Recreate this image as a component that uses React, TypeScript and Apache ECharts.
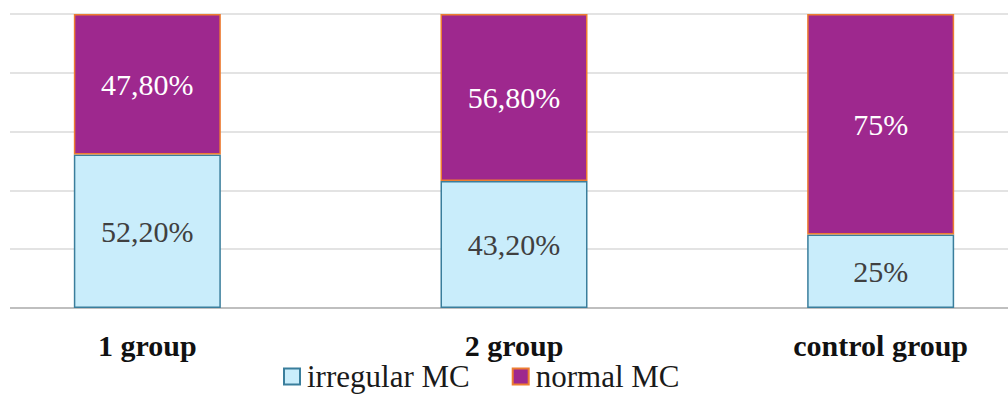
import React, { useEffect, useRef } from "react";
import * as echarts from "echarts";

const categories = ["1 group", "2 group", "control group"];
const irregularMC = [52.2, 43.2, 25];
const normalMC = [47.8, 56.8, 75];
const irregularLabels = ["52,20%", "43,20%", "25%"];
const normalLabels = ["47,80%", "56,80%", "75%"];
const seriesNames = ["irregular MC", "normal MC"];

const FONT = "Times New Roman, Liberation Serif, serif";

export default function App() {
  const ref = useRef<HTMLDivElement>(null);
  useEffect(() => {
    document.body.style.margin = "0";
    const chart = echarts.init(ref.current!, null, { renderer: "svg" });
    chart.setOption({
      animation: false,
      backgroundColor: "#ffffff",
      textStyle: { fontFamily: FONT },
      grid: {
        left: -36,
        width: 1100,
        top: 14,
        bottom: 88,
        containLabel: false,
        outerBoundsMode: "none",
      },
      legend: {
        data: seriesNames,
        left: 283,
        top: 361,
        padding: 0,
        itemWidth: 16,
        itemHeight: 16,
        itemGap: 42,
        icon: "rect",
        textStyle: {
          fontFamily: FONT,
          fontWeight: "normal",
          fontSize: 31,
          lineHeight: 31,
          color: "#1a1a1a",
          padding: [0, 0, 0, 2],
        },
      },
      xAxis: {
        type: "category",
        data: categories,
        axisLine: { show: true, lineStyle: { color: "#bfbfbf", width: 2 } },
        axisTick: { show: false },
        axisLabel: {
          fontFamily: FONT,
          fontSize: 30,
          fontWeight: "bold",
          color: "#111111",
          margin: 22,
        },
      },
      yAxis: {
        type: "value",
        min: 0,
        max: 100,
        interval: 20,
        axisLabel: { show: false },
        axisLine: { show: false },
        axisTick: { show: false },
        splitLine: { lineStyle: { color: "#e3e3e3", width: 2 } },
      },
      series: [
        {
          name: seriesNames[0],
          type: "bar",
          stack: "total",
          barWidth: 147,
          data: irregularMC,
          itemStyle: { color: "#c9edfb", borderColor: "#3a7e9c", borderWidth: 1.5 },
          label: {
            show: true,
            position: "inside",
            fontFamily: FONT,
            fontWeight: "normal",
            fontSize: 30,
            color: "#404040",
            formatter: (p: any) => irregularLabels[p.dataIndex],
          },
        },
        {
          name: seriesNames[1],
          type: "bar",
          stack: "total",
          barWidth: 147,
          data: normalMC,
          itemStyle: { color: "#9e288e", borderColor: "#ed7d31", borderWidth: 1.5 },
          label: {
            show: true,
            position: "inside",
            fontFamily: FONT,
            fontWeight: "normal",
            fontSize: 30,
            color: "#ffffff",
            formatter: (p: any) => normalLabels[p.dataIndex],
          },
        },
      ],
      graphic: [
        {
          type: "rect",
          left: 0,
          top: 0,
          shape: { width: 10, height: 320 },
          style: { fill: "#ffffff" },
          z: 100,
        },
      ],
    });
    return () => chart.dispose();
  }, []);
  return <div ref={ref} style={{ width: 1008, height: 396 }} />;
}
